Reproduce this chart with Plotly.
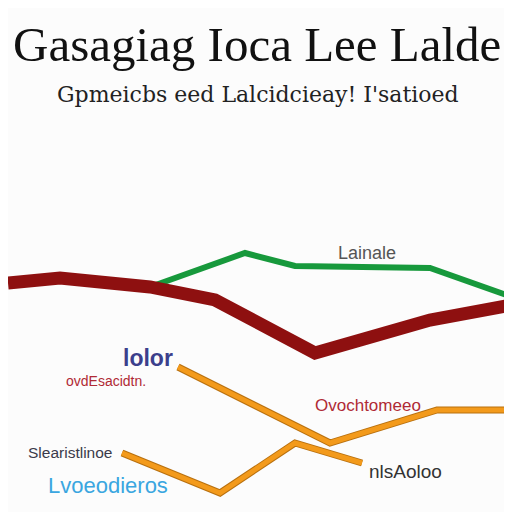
import plotly.graph_objects as go

# Series values (pixel-like coordinate space, y grows downward)
red_x = [8, 60, 150, 215, 315, 430, 512]
red_y = [283, 278, 287, 300, 353, 320, 305]

green_x = [150, 245, 295, 430, 512]
green_y = [287, 253, 266, 268, 297]

orange_a_x = [178, 330, 437, 512]
orange_a_y = [367, 443, 410, 410]

orange_b_x = [122, 220, 295, 362]
orange_b_y = [453, 493, 443, 463]

title_text = "Gasagiag Ioca Lee Lalde"
subtitle_text = "Gpmeicbs eed Lalcidcieay! I'satioed"

labels = ["Lainale", "lolor", "ovdEsacidtn.", "Ovochtomeeo", "Slearistlinoe", "Lvoeodieros", "nlsAoloo"]
label_x = [367, 148, 106, 368, 70, 108, 405]
label_y = [253, 358, 381, 405, 452, 485, 471]
label_colors = ["#555555", "#3c3f8c", "#b02a35", "#b02a35", "#3a3a4a", "#3aa6e0", "#333333"]
label_sizes = [18, 23, 14, 17, 15.5, 22, 19]
label_weights = ["normal", "bold", "normal", "normal", "normal", "normal", "normal"]

# page body has an 8px margin; shift axis ranges so that data units equal window pixels
OFF = 8

fig = go.Figure()

fig.add_trace(go.Scatter(x=green_x, y=green_y, mode="lines",
                         line=dict(color="#17993c", width=6), hoverinfo="skip"))
fig.add_trace(go.Scatter(x=red_x, y=red_y, mode="lines",
                         line=dict(color="#8e1010", width=13), hoverinfo="skip"))
for xs, ys in [(orange_a_x, orange_a_y), (orange_b_x, orange_b_y)]:
    fig.add_trace(go.Scatter(x=xs, y=ys, mode="lines",
                             line=dict(color="#b8700f", width=7), hoverinfo="skip"))
    fig.add_trace(go.Scatter(x=xs, y=ys, mode="lines",
                             line=dict(color="#f39a1b", width=5), hoverinfo="skip"))

annotations = [
    dict(x=257, y=44, text=title_text, showarrow=False,
         font=dict(family="Liberation Serif", size=49, color="#111111")),
    dict(x=258, y=94, text=subtitle_text, showarrow=False,
         font=dict(family="DejaVu Serif", size=22, color="#222222")),
]
for t, x, y, c, s, w in zip(labels, label_x, label_y, label_colors, label_sizes, label_weights):
    annotations.append(dict(x=x, y=y, text=f"<b>{t}</b>" if w == "bold" else t,
                            showarrow=False,
                            font=dict(family="Liberation Sans", size=s, color=c)))

fig.update_layout(
    width=512, height=512,
    margin=dict(l=0, r=0, t=0, b=0),
    paper_bgcolor="#fcfcfc", plot_bgcolor="#fcfcfc",
    showlegend=False,
    xaxis=dict(range=[OFF, 512 + OFF], visible=False, fixedrange=True),
    yaxis=dict(range=[512 + OFF, OFF], visible=False, fixedrange=True),
    annotations=annotations,
)

fig.write_html("out.html")
